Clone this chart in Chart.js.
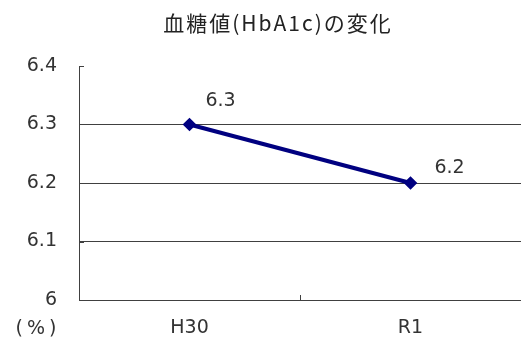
<!DOCTYPE html>
<html>
<head>
<meta charset="utf-8">
<script src="https://cdn.jsdelivr.net/npm/chart.js@4/dist/chart.umd.min.js"></script>
<style>
  html, body { margin: 0; padding: 0; background: #fff; }
  #wrap { width: 521px; height: 351px; }
</style>
</head>
<body>
<div id="wrap"><canvas id="c" width="521" height="351"></canvas></div>
<script>
// Chart data
const titleText = '血糖値(HbA1c)の変化';
const unitText = '(%)';
const categories = ['H30', 'R1'];
const hba1c = [6.3, 6.2];
const yMin = 6.0;
const yMax = 6.4;
const yStep = 0.1;

const inkColor = '#404040';
const labelFont = '"DejaVu Sans", sans-serif';

// Title, unit label, value labels and inward tick marks
const decorations = {
  id: 'decorations',
  afterDraw(chart) {
    const ctx = chart.ctx;
    const area = chart.chartArea;
    const xs = chart.scales.x;
    const ys = chart.scales.y;
    ctx.save();

    // inward tick marks on the value axis
    ctx.strokeStyle = inkColor;
    ctx.lineWidth = 1;
    ys.ticks.forEach(t => {
      const y = Math.round(ys.getPixelForValue(t.value)) + 0.5;
      ctx.beginPath();
      ctx.moveTo(area.left, y);
      ctx.lineTo(area.left + 5, y);
      ctx.stroke();
    });
    // inward tick marks on the category axis (category boundaries)
    for (let i = 0; i <= categories.length; i++) {
      const x = Math.round(xs.getPixelForValue(i - 0.5)) + 0.5;
      ctx.beginPath();
      ctx.moveTo(x, area.bottom);
      ctx.lineTo(x, area.bottom - 5);
      ctx.stroke();
    }

    // title
    ctx.fillStyle = '#222';
    ctx.font = '21px "Noto Sans CJK JP", sans-serif';
    ctx.textAlign = 'center';
    ctx.textBaseline = 'middle';
    ctx.letterSpacing = '2px';
    ctx.fillText(titleText, 278, 23);

    // unit label under the value axis
    ctx.font = '19px ' + labelFont;
    ctx.letterSpacing = '4px';
    ctx.fillStyle = '#333';
    ctx.fillText(unitText, 38, 329);
    ctx.letterSpacing = '0px';

    // value labels beside each point
    const offsets = [[31, -23], [39, -15]];
    const meta = chart.getDatasetMeta(0);
    meta.data.forEach((pt, i) => {
      const v = chart.data.datasets[0].data[i];
      ctx.fillText(v.toFixed(1), pt.x + offsets[i][0], pt.y + offsets[i][1]);
    });
    ctx.restore();
  }
};

new Chart(document.getElementById('c'), {
  type: 'line',
  data: {
    labels: categories,
    datasets: [{
      data: hba1c,
      borderColor: '#000080',
      backgroundColor: '#000080',
      borderWidth: 4,
      pointStyle: 'rectRot',
      pointRadius: 4,
      pointHoverRadius: 4,
      tension: 0
    }]
  },
  options: {
    responsive: false,
    animation: false,
    events: [],
    layout: { autoPadding: false, padding: { top: 66, right: 0, left: 0, bottom: 0 } },
    plugins: {
      legend: { display: false },
      title: { display: false },
      tooltip: { enabled: false }
    },
    scales: {
      x: {
        type: 'category',
        offset: true,
        grid: { display: false, drawTicks: false },
        border: { display: true, color: inkColor, width: 1 },
        ticks: { color: '#333', font: { family: labelFont, size: 19 }, padding: 17 },
        afterFit(scale) {
          scale.height = 51;
          scale.paddingLeft = 0;
          scale.paddingRight = 0;
        }
      },
      y: {
        min: yMin,
        max: yMax,
        grid: {
          drawTicks: false,
          color: ctx => (ctx.tick && (ctx.tick.value >= yMax - 1e-9 || ctx.tick.value <= yMin + 1e-9)) ? 'rgba(0,0,0,0)' : inkColor,
          lineWidth: 1
        },
        border: { display: true, color: inkColor, width: 1 },
        ticks: {
          stepSize: yStep,
          color: '#333',
          font: { family: labelFont, size: 19 },
          padding: 22,
          callback: v => (Math.abs(v - Math.round(v)) < 1e-9 ? String(Math.round(v)) : Number(v).toFixed(1))
        },
        afterFit(scale) { scale.width = 79; }
      }
    }
  },
  plugins: [decorations]
});
</script>
</body>
</html>
